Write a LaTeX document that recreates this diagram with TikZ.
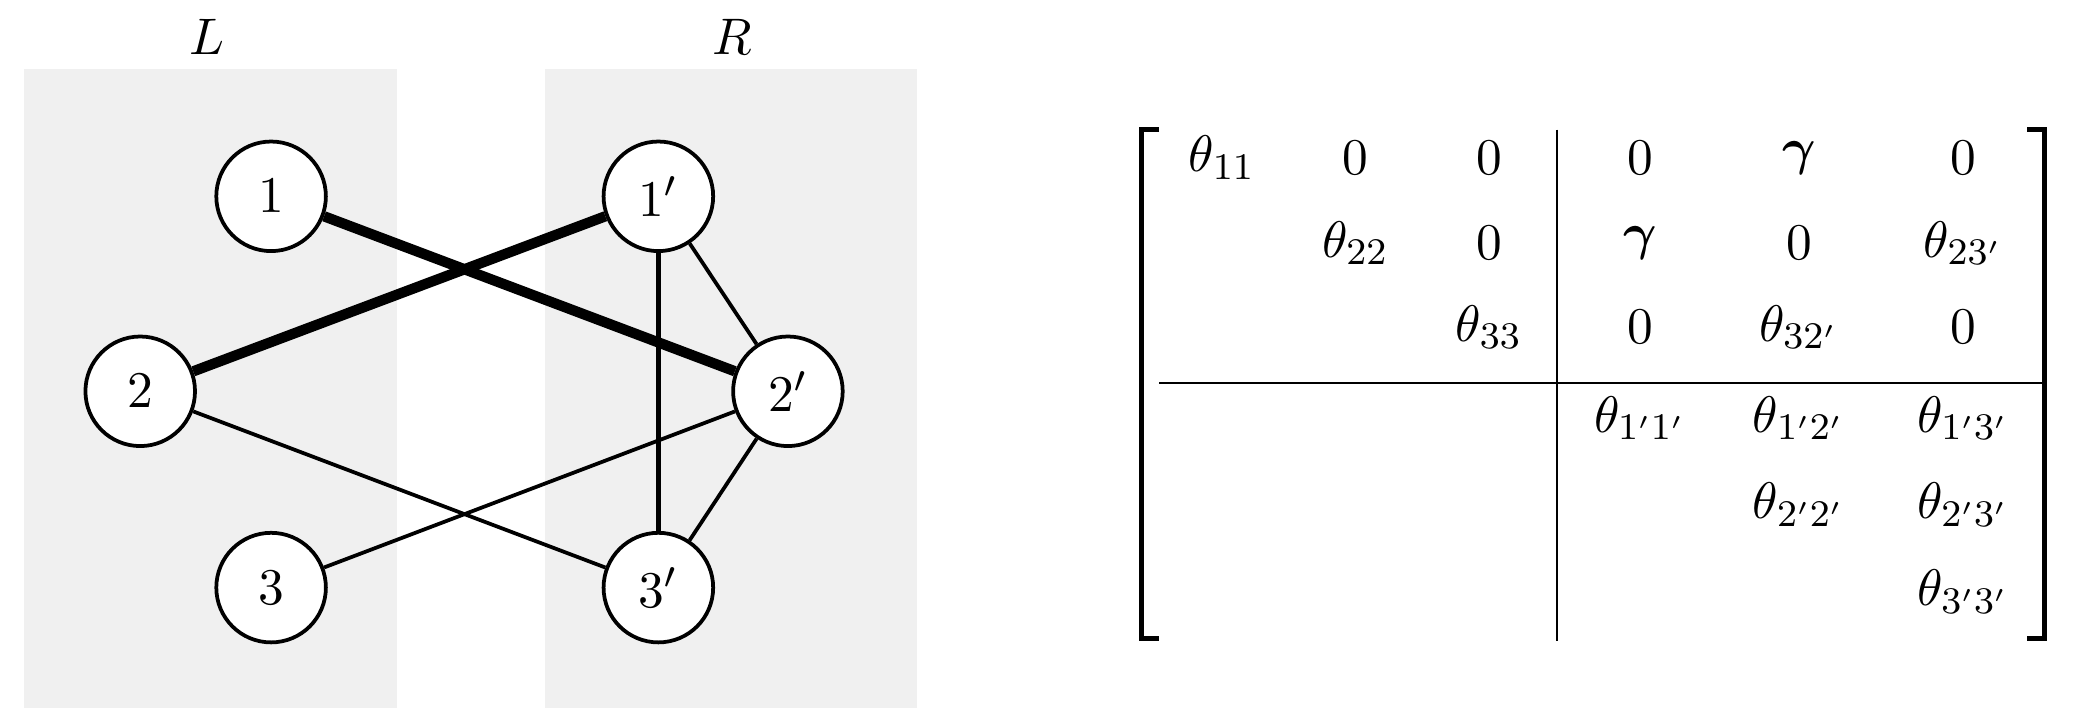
\documentclass[tikz,border=0pt]{standalone}
\usepackage{bm}
\usetikzlibrary{backgrounds}

\begin{document}
\begin{tikzpicture} [x=0.01cm,y=-0.01cm,line width=0.8pt,font=\fontsize{11}{13}\selectfont]
  \tikzset{vtx/.style={circle,draw,fill=white,minimum size=0.82cm,inner sep=0pt,line width=0.8pt},
           side/.style={fill=black!6,draw=none},
           ent/.style={anchor=center}}
  \useasboundingbox (0,0) rectangle (1568,545);

  \node (lL) at (155,28) {$L$};
  \node (lR) at (548,28) {$R$};

  \node[vtx] (1) at (203,147) {$1$};
  \node[vtx] (2) at (105,293) {$2$};
  \node[vtx] (3) at (203,440) {$3$};
  \node[vtx] (1p) at (493,147) {$1'$};
  \node[vtx] (2p) at (590,293) {$2'$};
  \node[vtx] (3p) at (493,440) {$3'$};

  \begin{pgfonlayer}{background}
  % the two sides
  \fill[side] (18,52) rectangle (297,530);
  \fill[side] (408,52) rectangle (687,530);
  \path[line width=0.8pt]
    (1) edge [line width=2.2pt] (2p)
    (2) edge [line width=2.2pt] (1p)
        edge (3p)
    (3) edge (2p)
    (1p) edge [line width=1.2pt] (3p)
         edge (2p)
    (2p) edge (3p);
  \end{pgfonlayer}

  % the matrix
  \draw[line width=1.1pt] (868,97) -- (855,97) -- (855,478) -- (868,478);
  \draw[line width=1.1pt] (1518,97) -- (1531,97) -- (1531,478) -- (1518,478);
  \draw (1166,97) -- (1166,480);
  \draw (868,287) -- (1532,287);

  \node[ent] (a11) at (915,118) {$\theta_{11}$};
  \node[ent] (a12) at (1015,118) {$0$};
  \node[ent] (a13) at (1115,118) {$0$};
  \node[ent] (a14) at (1228,118) {$0$};
  \node[ent] (a15) at (1347,118) {$\bm{\gamma}$};
  \node[ent] (a16) at (1470,118) {$0$};
  \node[ent] (a22) at (1015,182) {$\theta_{22}$};
  \node[ent] (a23) at (1115,182) {$0$};
  \node[ent] (a24) at (1228,182) {$\bm{\gamma}$};
  \node[ent] (a25) at (1347,182) {$0$};
  \node[ent] (a26) at (1470,182) {$\theta_{23'}$};
  \node[ent] (a33) at (1115,245) {$\theta_{33}$};
  \node[ent] (a34) at (1228,245) {$0$};
  \node[ent] (a35) at (1347,245) {$\theta_{32'}$};
  \node[ent] (a36) at (1470,245) {$0$};
  \node[ent] (a44) at (1228,313) {$\theta_{1'1'}$};
  \node[ent] (a45) at (1347,313) {$\theta_{1'2'}$};
  \node[ent] (a46) at (1470,313) {$\theta_{1'3'}$};
  \node[ent] (a55) at (1347,378) {$\theta_{2'2'}$};
  \node[ent] (a56) at (1470,378) {$\theta_{2'3'}$};
  \node[ent] (a66) at (1470,443) {$\theta_{3'3'}$};
\end{tikzpicture}
\end{document}
